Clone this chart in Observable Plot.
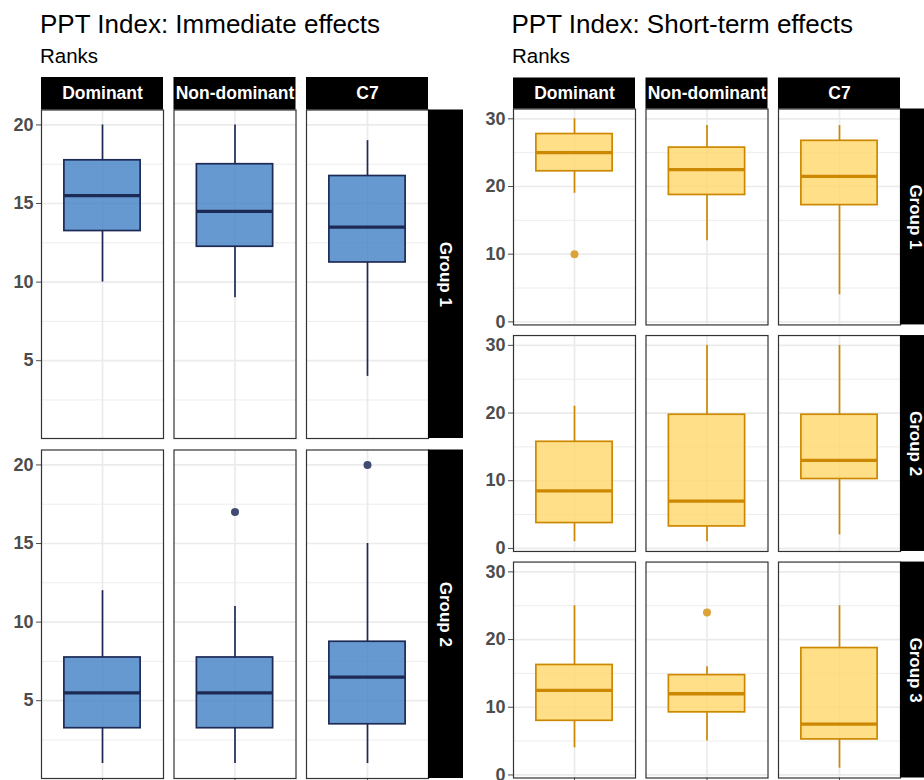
<!DOCTYPE html>
<html><head><meta charset="utf-8">
<script src="https://cdn.jsdelivr.net/npm/d3@7"></script>
<script src="https://cdn.jsdelivr.net/npm/@observablehq/plot@0.6"></script>
<style>
html,body{margin:0;padding:0;background:#fff;overflow:hidden;width:924px;height:780px;}
#root{position:relative;width:924px;height:780px;overflow:hidden;font-family:"Liberation Sans",Arial,sans-serif;}
.title{position:absolute;font-size:26px;color:#000;white-space:nowrap;line-height:1;}
.subtitle{position:absolute;font-size:20.5px;color:#000;white-space:nowrap;line-height:1;}
.chart{position:absolute;top:77px;}
</style></head><body><div id="root"></div>
<script>
// ---- categories ----
const columns = ["Dominant", "Non-dominant", "C7"];
const immediateGroups = ["Group 1", "Group 2"];
const shortGroups = ["Group 1", "Group 2", "Group 3"];

// ---- Immediate effects (order: Group 1 D, N, C7; Group 2 D, N, C7) ----
const immediateMin    = [10, 9, 4, 1, 1, 1];
const immediateQ1     = [13.25, 12.25, 11.25, 3.25, 3.25, 3.5];
const immediateMedian = [15.5, 14.5, 13.5, 5.5, 5.5, 6.5];
const immediateQ3     = [17.75, 17.5, 16.75, 7.75, 7.75, 8.75];
const immediateMax    = [20, 20, 19, 12, 11, 15];
const immediateOutGroup  = ["Group 2", "Group 2"];
const immediateOutColumn = ["Non-dominant", "C7"];
const immediateOutValue  = [17, 20];
const immediateTicks = [5, 10, 15, 20];
const immediateMinorTicks = [2.5, 7.5, 12.5, 17.5];
const immediateDomain = [0.05, 20.95];

// ---- Short-term effects (order: Group 1 D, N, C7; Group 2 ...; Group 3 ...) ----
const shortMin    = [19, 12, 4, 1, 1, 2, 4, 5, 1];
const shortQ1     = [22.25, 18.75, 17.25, 3.75, 3.25, 10.25, 8, 9.25, 5.25];
const shortMedian = [25, 22.5, 21.5, 8.5, 7, 13, 12.5, 12, 7.5];
const shortQ3     = [27.75, 25.75, 26.75, 15.75, 19.75, 19.75, 16.25, 14.75, 18.75];
const shortMax    = [30, 29, 29, 21, 30, 30, 25, 16, 25];
const shortOutGroup  = ["Group 1", "Group 3"];
const shortOutColumn = ["Dominant", "Non-dominant"];
const shortOutValue  = [10, 24];
const shortTicks = [0, 10, 20, 30];
const shortMinorTicks = [5, 15, 25];
const shortDomain = [-0.45, 31.45];

function boxTable(groups, mn, q1, med, q3, mx) {
  return med.map((_, i) => ({
    group: groups[Math.floor(i / columns.length)],
    column: columns[i % columns.length],
    min: mn[i], q1: q1[i], median: med[i], q3: q3[i], max: mx[i]
  }));
}
function outTable(g, c, v) {
  return v.map((value, i) => ({group: g[i], column: c[i], value}));
}

function facetChart(o) {
  const fyScale = d3.scaleBand().domain(o.groups)
    .range([o.marginTop, o.height - o.marginBottom]).paddingInner(o.fyPad).paddingOuter(0);
  const fxScale = d3.scaleBand().domain(columns)
    .range([o.marginLeft, o.width - o.marginRight]).paddingInner(o.fxPad).paddingOuter(0);
  const panelH = fyScale.bandwidth();
  const panelW = fxScale.bandwidth();
  const slot = () => "box";
  const fc = {fx: "column", fy: "group"};
  return Plot.plot({
    width: o.width, height: o.height,
    marginLeft: o.marginLeft, marginRight: o.marginRight,
    marginTop: o.marginTop, marginBottom: o.marginBottom,
    style: {fontFamily: "'Liberation Sans', Arial, sans-serif", fontSize: "18px",
            fontWeight: "bold", color: "#4d4d4d", background: "transparent", overflow: "visible"},
    fx: {domain: columns, paddingInner: o.fxPad, paddingOuter: 0, round: false, axis: null},
    fy: {domain: o.groups, paddingInner: o.fyPad, paddingOuter: 0, round: false, axis: null},
    x: {domain: ["box"], padding: 0.2308, round: false, tickFormat: () => "", tickSize: 5, label: null},
    y: {domain: o.yDomain, ticks: o.ticks, tickSize: 5, tickPadding: 3, label: null},
    marks: [
      Plot.ruleY(o.minorTicks, {stroke: "#ebebeb", strokeWidth: 0.9}),
      Plot.ruleY(o.ticks, {stroke: "#ebebeb", strokeWidth: 1.7}),
      Plot.ruleX(["box"], {stroke: "#ebebeb", strokeWidth: 1.7}),
      Plot.ruleX(o.data, {x: slot, y1: "min", y2: "q1", ...fc, stroke: o.stroke, strokeWidth: 1.7}),
      Plot.ruleX(o.data, {x: slot, y1: "q3", y2: "max", ...fc, stroke: o.stroke, strokeWidth: 1.7}),
      Plot.barY(o.data, {x: slot, y1: "q1", y2: "q3", ...fc, fill: o.fill, fillOpacity: 0.8,
                         stroke: o.stroke, strokeWidth: 1.7}),
      Plot.tickY(o.data, {x: slot, y: "median", ...fc, stroke: o.stroke, strokeWidth: 3.3}),
      Plot.dot(o.outliers, {x: slot, y: "value", ...fc, r: 4, fill: o.dotFill, stroke: "none"}),
      Plot.frame({stroke: "#333", strokeWidth: 1.2}),
      Plot.rect(columns, {fx: d => d, fy: () => o.groups[0], fill: "#000",
                          insetTop: -o.stripTop, insetBottom: panelH}),
      Plot.text(columns, {fx: d => d, fy: () => o.groups[0], text: d => d, frameAnchor: "top",
                          dy: -o.stripTop / 2, fill: "#fff", fontSize: 17.5, fontWeight: "bold",
                          textAnchor: "middle", lineAnchor: "middle"}),
      Plot.rect(o.groups, {fx: () => columns[columns.length - 1], fy: d => d, fill: "#000",
                           insetLeft: panelW, insetRight: -o.stripRight}),
      Plot.text(o.groups, {fx: () => columns[columns.length - 1], fy: d => d, text: d => d,
                           frameAnchor: "right", dx: o.stripDx, rotate: 90, fill: "#fff",
                           fontSize: 17, fontWeight: "bold", textAnchor: "middle", lineAnchor: "middle"})
    ]
  });
}

const root = document.getElementById("root");
function addText(cls, txt, left, top) {
  const d = document.createElement("div");
  d.className = cls; d.textContent = txt;
  d.style.left = left + "px"; d.style.top = top + "px";
  root.appendChild(d);
}
addText("title", "PPT Index: Immediate effects", 40, 11);
addText("subtitle", "Ranks", 40, 46);
addText("title", "PPT Index: Short-term effects", 511.5, 11);
addText("subtitle", "Ranks", 512, 46);

const left = facetChart({
  data: boxTable(immediateGroups, immediateMin, immediateQ1, immediateMedian, immediateQ3, immediateMax),
  outliers: outTable(immediateOutGroup, immediateOutColumn, immediateOutValue),
  groups: immediateGroups, yDomain: immediateDomain, ticks: immediateTicks, minorTicks: immediateMinorTicks,
  fill: "#4080c4", stroke: "#1d2a56", dotFill: "#414b72",
  width: 462, height: 731, marginLeft: 41, marginRight: 34, marginTop: 32.5, marginBottom: 30,
  fxPad: 0.0792, fyPad: 0.0338, stripTop: 32.5, stripRight: 35, stripDx: 16.5
});
left.classList.add("chart");
left.style.left = "0px";
root.appendChild(left);

const right = facetChart({
  data: boxTable(shortGroups, shortMin, shortQ1, shortMedian, shortQ3, shortMax),
  outliers: outTable(shortOutGroup, shortOutColumn, shortOutValue),
  groups: shortGroups, yDomain: shortDomain, ticks: shortTicks, minorTicks: shortMinorTicks,
  fill: "#ffd76a", stroke: "#cc8800", dotFill: "#dba33a",
  width: 470, height: 731, marginLeft: 51, marginRight: 32, marginTop: 31.5, marginBottom: 30.5,
  fxPad: 0.0792, fyPad: 0.0468, stripTop: 31, stripRight: 32, stripDx: 15
});
right.classList.add("chart");
right.style.left = "462px";
root.appendChild(right);
</script>
</body></html>
